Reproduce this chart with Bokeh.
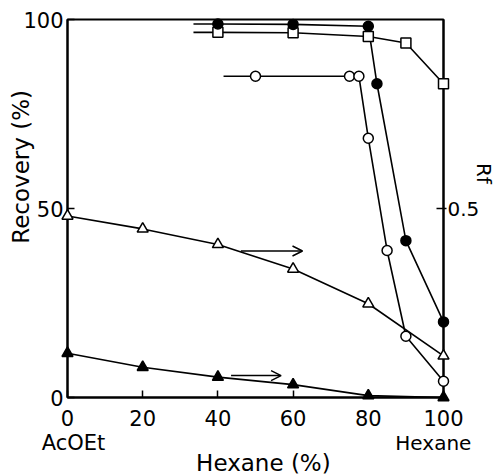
import math
from bokeh.plotting import figure
from bokeh.models import (Range1d, LinearAxis, FixedTicker, Arrow,
                          OpenHead, ColumnDataSource)
from bokeh.core.properties import value
from bokeh.embed import file_html
from bokeh.resources import INLINE

# ---------------- data ----------------
hexane_ticks = [0, 20, 40, 60, 80, 100]
recovery_ticks = [0, 50, 100]
rf_ticks = [0.5]

# Recovery (%), filled circles
fc_x = [40, 60, 80, 82.3, 90, 100]
fc_y = [98.8, 98.7, 98.2, 83, 41.5, 20]
fc_line_x = [33.5, 40, 60, 80, 82.3, 90, 100]
fc_line_y = [98.8, 98.8, 98.7, 98.2, 83, 41.5, 20]

# Recovery (%), open squares
sq_x = [40, 60, 80, 90, 100]
sq_y = [96.6, 96.5, 95.5, 93.8, 83]
sq_line_x = [33.5, 40, 60, 80, 90, 100]
sq_line_y = [96.6, 96.6, 96.5, 95.5, 93.8, 83]

# Recovery (%), open circles
oc_x = [50, 75, 77.5, 80, 85, 90, 100]
oc_y = [85, 85, 85, 68.6, 38.9, 16.2, 4.3]
oc_line_x = [41.5, 50, 75, 77.5, 80, 85, 90, 100]
oc_line_y = [85, 85, 85, 85, 68.6, 38.9, 16.2, 4.3]

# Rf, open triangles and filled triangles
tri_x = [0, 20, 40, 60, 80, 100]
ot_rf = [0.48, 0.446, 0.405, 0.34, 0.248, 0.11]
ft_rf = [0.117, 0.08, 0.054, 0.034, 0.005, 0.0]

# arrows pointing to the Rf axis
arrow_x_start = [46.1, 43.5]
arrow_x_end = [62.5, 56.8]
arrow_rf = [0.3875, 0.058]

FONT = "DejaVu Sans"
LVL = "overlay"

p = figure(width=496, height=475, output_backend="svg", toolbar_location=None,
           x_range=Range1d(0, 100), y_range=Range1d(0, 100),
           min_border_left=67, min_border_right=53, min_border_top=19,
           min_border_bottom=78)
p.extra_y_ranges = {"rf": Range1d(0, 1)}
p.outline_line_color = "black"
p.outline_line_width = 2
p.grid.visible = False
p.background_fill_color = "white"
p.border_fill_color = "white"


def style_axis(ax, ticks, tin, tout, standoff, fs):
    ax.ticker = FixedTicker(ticks=ticks)
    ax.major_tick_in = tin
    ax.major_tick_out = tout
    ax.major_tick_line_width = 1.5
    ax.minor_tick_line_color = None
    ax.axis_line_width = 2
    ax.axis_line_color = "black"
    ax.major_tick_line_color = "black"
    ax.major_label_standoff = standoff
    ax.major_label_text_font = FONT
    ax.major_label_text_font_size = fs
    ax.major_label_text_color = "black"


style_axis(p.yaxis[0], recovery_ticks, 7, 0, 4, "21px")
style_axis(p.xaxis[0], hexane_ticks, 7, 0, 12, "21px")

rax = LinearAxis(y_range_name="rf")
style_axis(rax, rf_ticks, 7, 3, 1, "20px")
p.add_layout(rax, "right")

LW = 1.6
# lines
p.line(fc_line_x, fc_line_y, line_color="black", line_width=LW, level=LVL)
p.line(sq_line_x, sq_line_y, line_color="black", line_width=LW, level=LVL)
p.line(oc_line_x, oc_line_y, line_color="black", line_width=LW, level=LVL)
p.line(tri_x, ot_rf, line_color="black", line_width=LW, y_range_name="rf", level=LVL)
p.line(tri_x, ft_rf, line_color="black", line_width=LW, y_range_name="rf", level=LVL)

# markers
p.scatter(sq_x, sq_y, marker="square", size=10, fill_color="white",
          line_color="black", line_width=1.5, level=LVL)
p.scatter(fc_x, fc_y, marker="circle", size=10, fill_color="black",
          line_color="black", line_width=1.5, level=LVL)
p.scatter(oc_x, oc_y, marker="circle", size=10, fill_color="white",
          line_color="black", line_width=1.5, level=LVL)
p.scatter(tri_x, ot_rf, marker="triangle", size=11, fill_color="white",
          line_color="black", line_width=1.5, y_range_name="rf", level=LVL)
p.scatter(tri_x, ft_rf, marker="triangle", size=11, fill_color="black",
          line_color="black", line_width=1.5, y_range_name="rf", level=LVL)

# arrows
asrc = ColumnDataSource(dict(x0=arrow_x_start, x1=arrow_x_end, y=arrow_rf))
p.add_layout(Arrow(end=OpenHead(size=10, line_width=1.5, line_color="black"),
                   x_start="x0", y_start="y", x_end="x1", y_end="y",
                   source=asrc, line_width=1.5, line_color="black",
                   y_range_name="rf"))


def txt(x, y, s, fs, angle=0.0, baseline="alphabetic"):
    p.text(x=[x], y=[y], text=[s], angle=angle, text_align="center",
           text_baseline=baseline, text_font=value(FONT),
           text_font_size=fs, text_color="black", level=LVL)


# texts
txt(-12.5, 61.0, "Recovery (%)", "23px", math.pi / 2, "middle")
txt(110.9, 59.3, "Rf", "20px", -math.pi / 2, "middle")
txt(52.1, -17.4, "Hexane (%)", "23px")
txt(1.6, -12.1, "AcOEt", "21px")
txt(97.3, -12.1, "Hexane", "20px")

open("out.html", "w").write(file_html(p, INLINE))
